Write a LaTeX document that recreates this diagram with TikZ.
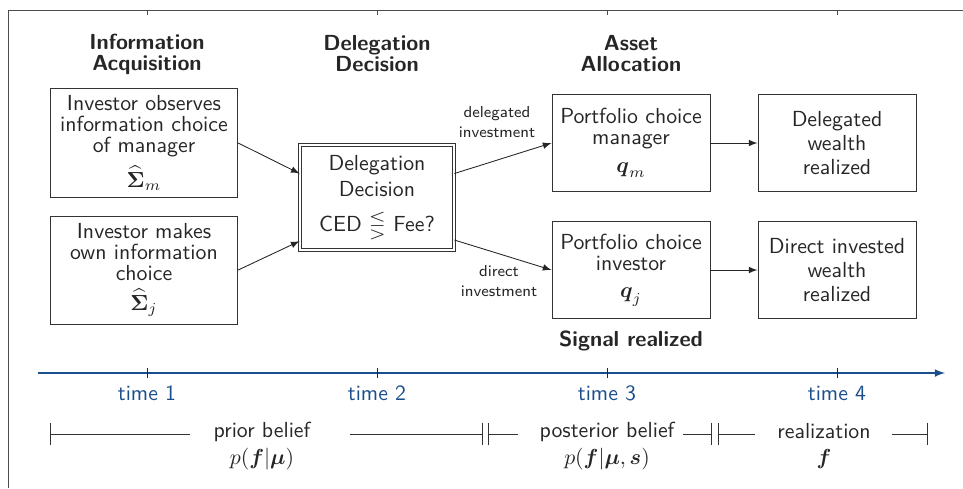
\documentclass[tikz,border=0pt]{standalone}
\usepackage{amsmath}
\usepackage{amssymb}
\usepackage{tikz}
\usetikzlibrary{arrows,arrows.meta}

\definecolor{timeblue}{RGB}{28,78,140}

\tikzset{
  box/.style={draw=black!80, text=black!85, minimum width=86pt, minimum height=44.5pt,
    inner xsep=1pt, align=center, font=\sffamily\fontsize{10}{9.6}\selectfont},
  narrow/.style={minimum width=72.5pt},
  loose/.style={font=\sffamily\fontsize{10}{11.2}\selectfont},
  dbox/.style={draw=black!80, double, double distance=1.2pt, text=black!85,
    minimum width=70.6pt, minimum height=48.1pt, align=center,
    font=\sffamily\fontsize{10}{12}\selectfont},
  head/.style={text=black!85, align=center, font=\sffamily\bfseries\fontsize{10}{9.6}\selectfont},
  small/.style={text=black!85, align=center, font=\sffamily\fontsize{7.3}{9}\selectfont},
  tlabel/.style={text=timeblue, font=\sffamily\fontsize{10}{12}\selectfont},
  belief/.style={text=black!85, align=center, font=\sffamily\fontsize{10}{12}\selectfont},
  bar/.style={draw=black!80, {Bar[width=10.5pt]}-},
  rbar/.style={draw=black!80, -{Bar[width=10.5pt]}}
}

\begin{document}
\begin{tikzpicture}[x=0.4587pt, y=-0.4587pt]

            \useasboundingbox (0,0) rectangle (963,488);

            % frame
            \draw[black!70] (8,488) -- (8,10) -- (963,10);
            \draw[black!70] (147,10) -- (147,15);
            \draw[black!70] (377,10) -- (377,15);
            \draw[black!70] (607,10) -- (607,15);
            \draw[black!70] (837,10) -- (837,15);

            % stages
            \node[head] (IA) at (147,54) {Information\\Acquisition};
            \node[head] (DD) at (377,54) {Delegation\\Decision};
            \node[head] (AA) at (631,54) {Asset\\Allocation};

            \node[box] (obs) at (144,143) {Investor observes\\information choice\\of manager\\[3pt]$\widehat{\boldsymbol{\Sigma}}_m$};
            \node[box] (own) at (144,270) {Investor makes\\own information\\choice\\[3pt]$\widehat{\boldsymbol{\Sigma}}_j$};

            \node[dbox] (dec) at (377,197.5) {Delegation\\Decision\\[4pt]CED $\lesseqgtr$ Fee?};

            \node[box, narrow] (pcm) at (631,143) {Portfolio choice\\manager\\[3pt]$\boldsymbol{q}_m$};
            \node[box, narrow] (pci) at (631,270) {Portfolio choice\\investor\\[3pt]$\boldsymbol{q}_j$};

            \node[box, narrow, loose] (dwr) at (837,143) {Delegated\\wealth\\realized};
            \node[box, narrow, loose] (iwr) at (837,270) {Direct invested\\wealth\\realized};

            \node[small] (del) at (497,122) {delegated\\investment};
            \node[small] (dir) at (499,281) {direct\\investment};

            \node[head] (sig) at (631,341) {Signal realized};

            \path[-latex, black!85]
                (obs.east) edge ([yshift=11pt]dec.west)
                (own.east) edge ([yshift=-20pt]dec.west)
                ([yshift=11pt]dec.east) edge (pcm.west)
                ([yshift=-19.5pt]dec.east) edge (pci.west)
                (pcm) edge (dwr)
                (pci) edge (iwr);

            % time line
            \coordinate (t0) at (38,373);
            \coordinate (t5) at (945,373);
            \draw[timeblue, line width=0.6pt, -latex] (t0) -- (t5);
            \draw[black!85] (147,368) -- (147,378);
            \draw[black!85] (377,368) -- (377,378);
            \draw[black!85] (607,368) -- (607,378);
            \draw[black!85] (837,368) -- (837,378);
            \node[tlabel] (T1) at (147,393) {time 1};
            \node[tlabel] (T2) at (377,393) {time 2};
            \node[tlabel] (T3) at (607,393) {time 3};
            \node[tlabel] (T4) at (837,393) {time 4};

            % beliefs
            \node[belief] (prior) at (262,446) {prior belief\\$p(\boldsymbol{f}|\boldsymbol{\mu})$};
            \node[belief] (post) at (607,446) {posterior belief\\$p(\boldsymbol{f}|\boldsymbol{\mu},\boldsymbol{s})$};
            \node[belief] (real) at (824,446) {realization\\$\boldsymbol{f}$};

            \draw[bar] (50,434) -- (190,434);
            \draw[rbar] (350,434) -- (483,434);
            \draw[bar] (488,434) -- (518,434);
            \draw[rbar] (683,434) -- (712,434);
            \draw[bar] (718,434) -- (755,434);
            \draw[rbar] (892,434) -- (928,434);
        \end{tikzpicture}
\end{document}
